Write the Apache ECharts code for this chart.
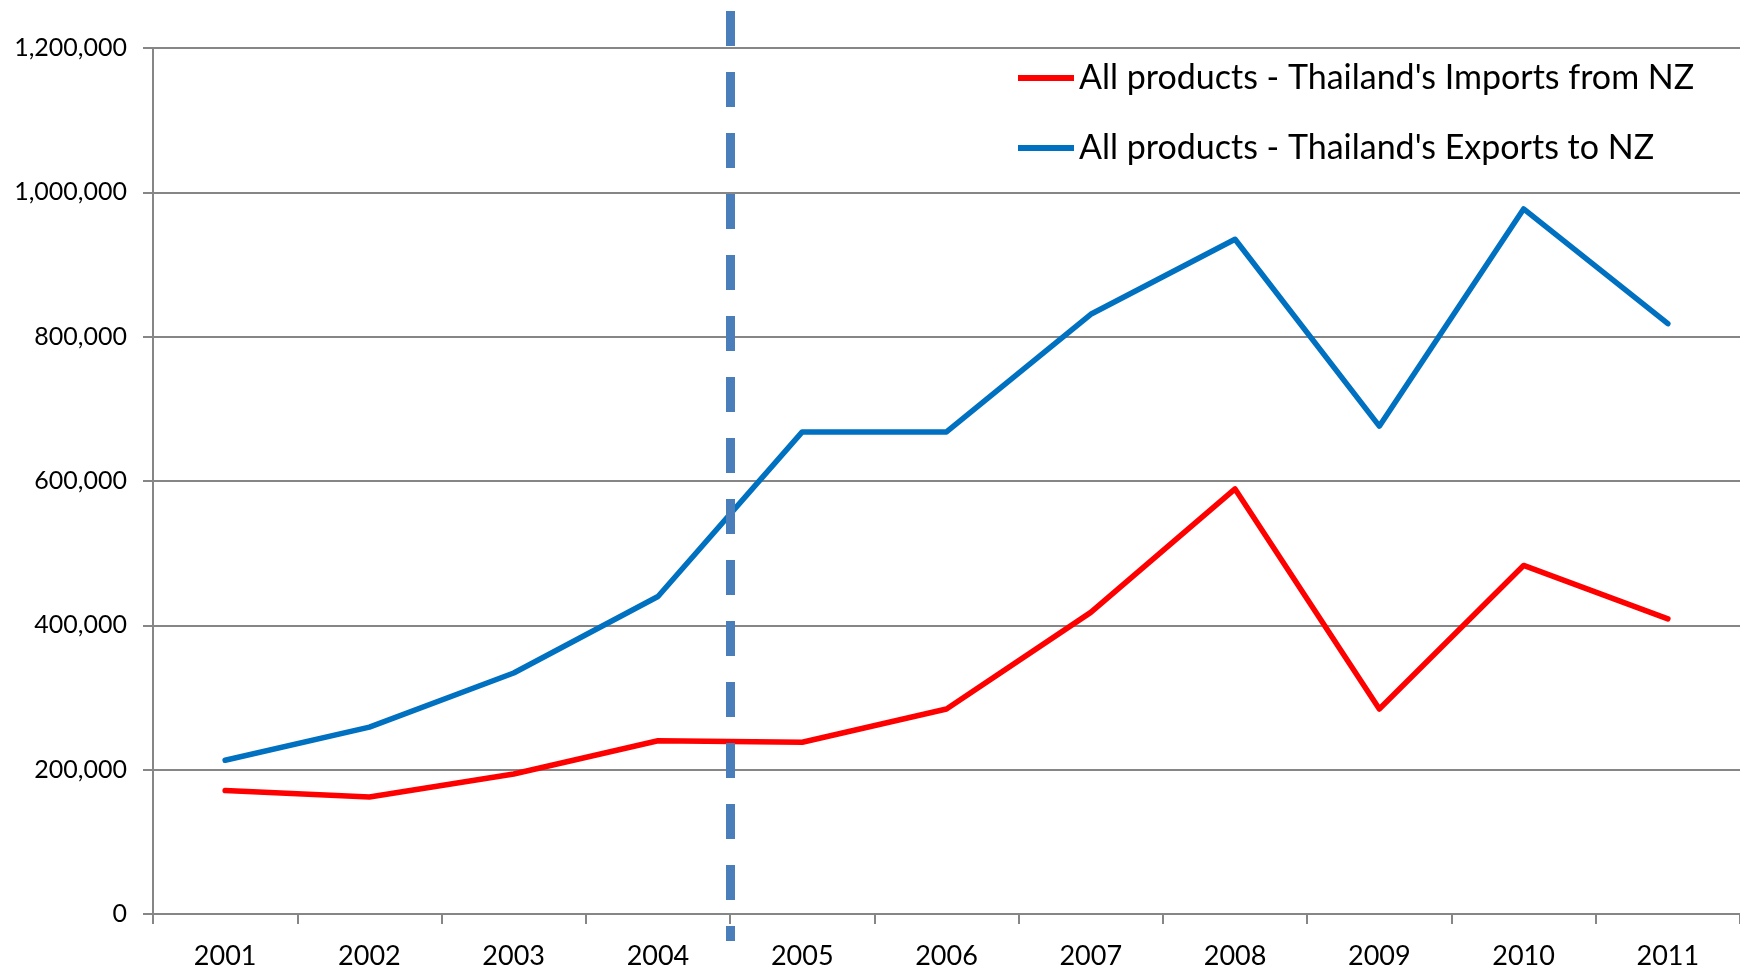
<!DOCTYPE html>
<html>
<head>
<meta charset="utf-8">
<script src="https://cdn.jsdelivr.net/npm/echarts@6/dist/echarts.min.js"></script>
<style>
html,body{margin:0;padding:0;background:#ffffff;}
#chart{width:1740px;height:973px;}
</style>
</head>
<body>
<div id="chart"></div>
<script>
// ---- data ----
const years = ['2001','2002','2003','2004','2005','2006','2007','2008','2009','2010','2011'];
const importsFromNZ = [171000,162000,194000,240000,238000,284000,418000,589000,284000,483000,409000];
const exportsToNZ   = [213000,259000,334000,440000,668000,668000,831000,935000,676000,977000,818000];
const seriesNames = ["All products - Thailand's Imports from NZ", "All products - Thailand's Exports to NZ"];
const yMin = 0, yMax = 1200000, yStep = 200000;
// vertical marker: boundary between 2004 and 2005, in category units (0..11)
const markerPosition = 4;
const categoryCount = years.length;

const FONT = 'Lato';
const chart = echarts.init(document.getElementById('chart'), null, {renderer:'canvas'});
chart.setOption({
  animation: false,
  backgroundColor: '#ffffff',
  grid: [
    {left: 153, right: -2, top: 48, bottom: 59, containLabel: false},
    {left: 153, right: -2, top: 11, bottom: 32, containLabel: false}
  ],
  legend: {
    orient: 'vertical',
    left: 1013,
    top: 53,
    icon: 'rect',
    itemWidth: 56,
    itemHeight: 6,
    itemGap: 30,
    data: seriesNames,
    textStyle: {fontFamily: FONT, fontSize: 34, color: '#000', lineHeight: 40}
  },
  xAxis: [
    {
      type: 'category', gridIndex: 0, data: years, boundaryGap: true,
      axisLine: {lineStyle: {color: '#868686', width: 2}},
      axisTick: {show: true, length: 10, lineStyle: {color: '#868686', width: 2}},
      axisLabel: {fontFamily: FONT, fontSize: 27, color: '#000', margin: 29},
      splitLine: {show: false}
    },
    {
      type: 'value', gridIndex: 1, min: 0, max: categoryCount, show: false
    }
  ],
  yAxis: [
    {
      type: 'value', gridIndex: 0, min: yMin, max: yMax, interval: yStep,
      axisLine: {show: true, lineStyle: {color: '#868686', width: 2}},
      axisTick: {show: true, length: 10, lineStyle: {color: '#868686', width: 2}},
      splitLine: {show: true, lineStyle: {color: '#868686', width: 2}},
      axisLabel: {
        fontFamily: FONT, fontSize: 25, color: '#000', margin: 26,
        formatter: v => v.toLocaleString('en-US')
      }
    },
    {
      type: 'value', gridIndex: 1, min: 0, max: 1, inverse: true, show: false
    }
  ],
  series: [
    {
      name: seriesNames[0], type: 'line', data: importsFromNZ,
      xAxisIndex: 0, yAxisIndex: 0,
      color: '#FF0000', symbol: 'none', z: 3,
      lineStyle: {color: '#FF0000', width: 5.5, cap: 'round', join: 'round'}
    },
    {
      name: seriesNames[1], type: 'line', data: exportsToNZ,
      xAxisIndex: 0, yAxisIndex: 0,
      color: '#0070C0', symbol: 'none', z: 3,
      lineStyle: {color: '#0070C0', width: 5.5, cap: 'round', join: 'round'}
    },
    {
      name: 'marker', type: 'line', data: [[markerPosition, 0]],
      xAxisIndex: 1, yAxisIndex: 1, symbol: 'none', z: 4,
      lineStyle: {opacity: 0},
      silent: true,
      markLine: {
        silent: true, symbol: ['none','none'], animation: false,
        label: {show: false},
        lineStyle: {color: '#4A7EBB', width: 9, type: [35, 26], cap: 'butt'},
        emphasis: {disabled: true},
        data: [{xAxis: markerPosition}]
      }
    }
  ]
});
</script>
</body>
</html>
